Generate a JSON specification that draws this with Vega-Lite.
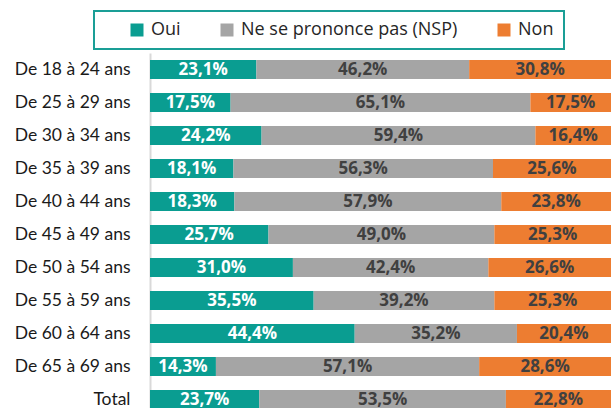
{
  "$schema": "https://vega.github.io/schema/vega-lite/v6.json",
  "autosize": "none",
  "padding": {"left": 150, "top": 53, "right": 0, "bottom": 0},
  "width": 461,
  "height": 363,
  "data": {
    "values": [
      {"age": "De 18 à 24 ans", "rep": "Oui", "pct": 0.231},
      {"age": "De 18 à 24 ans", "rep": "Ne se prononce pas (NSP)", "pct": 0.462},
      {"age": "De 18 à 24 ans", "rep": "Non", "pct": 0.308},
      {"age": "De 25 à 29 ans", "rep": "Oui", "pct": 0.175},
      {"age": "De 25 à 29 ans", "rep": "Ne se prononce pas (NSP)", "pct": 0.651},
      {"age": "De 25 à 29 ans", "rep": "Non", "pct": 0.175},
      {"age": "De 30 à 34 ans", "rep": "Oui", "pct": 0.242},
      {"age": "De 30 à 34 ans", "rep": "Ne se prononce pas (NSP)", "pct": 0.594},
      {"age": "De 30 à 34 ans", "rep": "Non", "pct": 0.164},
      {"age": "De 35 à 39 ans", "rep": "Oui", "pct": 0.181},
      {"age": "De 35 à 39 ans", "rep": "Ne se prononce pas (NSP)", "pct": 0.563},
      {"age": "De 35 à 39 ans", "rep": "Non", "pct": 0.256},
      {"age": "De 40 à 44 ans", "rep": "Oui", "pct": 0.183},
      {"age": "De 40 à 44 ans", "rep": "Ne se prononce pas (NSP)", "pct": 0.579},
      {"age": "De 40 à 44 ans", "rep": "Non", "pct": 0.238},
      {"age": "De 45 à 49 ans", "rep": "Oui", "pct": 0.257},
      {"age": "De 45 à 49 ans", "rep": "Ne se prononce pas (NSP)", "pct": 0.490},
      {"age": "De 45 à 49 ans", "rep": "Non", "pct": 0.253},
      {"age": "De 50 à 54 ans", "rep": "Oui", "pct": 0.310},
      {"age": "De 50 à 54 ans", "rep": "Ne se prononce pas (NSP)", "pct": 0.424},
      {"age": "De 50 à 54 ans", "rep": "Non", "pct": 0.266},
      {"age": "De 55 à 59 ans", "rep": "Oui", "pct": 0.355},
      {"age": "De 55 à 59 ans", "rep": "Ne se prononce pas (NSP)", "pct": 0.392},
      {"age": "De 55 à 59 ans", "rep": "Non", "pct": 0.253},
      {"age": "De 60 à 64 ans", "rep": "Oui", "pct": 0.444},
      {"age": "De 60 à 64 ans", "rep": "Ne se prononce pas (NSP)", "pct": 0.352},
      {"age": "De 60 à 64 ans", "rep": "Non", "pct": 0.204},
      {"age": "De 65 à 69 ans", "rep": "Oui", "pct": 0.143},
      {"age": "De 65 à 69 ans", "rep": "Ne se prononce pas (NSP)", "pct": 0.571},
      {"age": "De 65 à 69 ans", "rep": "Non", "pct": 0.286},
      {"age": "Total", "rep": "Oui", "pct": 0.237},
      {"age": "Total", "rep": "Ne se prononce pas (NSP)", "pct": 0.535},
      {"age": "Total", "rep": "Non", "pct": 0.228}
    ]
  },
  "transform": [
    {"stack": "pct", "groupby": ["age"], "offset": "normalize", "as": ["v0", "v1"]}
  ],
  "encoding": {
    "y": {
      "field": "age",
      "type": "nominal",
      "sort": ["De 18 à 24 ans", "De 25 à 29 ans", "De 30 à 34 ans", "De 35 à 39 ans", "De 40 à 44 ans", "De 45 à 49 ans", "De 50 à 54 ans", "De 55 à 59 ans", "De 60 à 64 ans", "De 65 à 69 ans", "Total"],
      "scale": {"paddingInner": 0.42, "paddingOuter": 0.21},
      "axis": {
        "title": null,
        "ticks": false,
        "labelPadding": 20,
        "labelFont": "Lato",
        "labelFontSize": 17.5,
        "labelColor": "#1a1a1a",
        "domainColor": "#d9d9d9",
        "domainWidth": 2
      }
    }
  },
  "layer": [
    {
      "mark": {"type": "bar"},
      "encoding": {
        "x": {"field": "v0", "type": "quantitative", "scale": {"domain": [0, 1], "nice": false}, "axis": null},
        "x2": {"field": "v1"},
        "color": {
          "field": "rep",
          "type": "nominal",
          "scale": {
            "domain": ["Oui", "Ne se prononce pas (NSP)", "Non"],
            "range": ["#0a9d91", "#a5a5a5", "#ed7d31"]
          },
          "legend": {
            "orient": "none",
            "legendX": -56,
            "legendY": -42,
            "direction": "horizontal",
            "title": "\u00a0",
            "titleOrient": "left",
            "titleFontSize": 11,
            "titlePadding": 24,
            "symbolType": "square",
            "symbolSize": 169,
            "symbolStrokeWidth": 0,
            "labelFont": "Open Sans",
            "labelFontSize": 18,
            "labelLimit": 400,
            "labelColor": "#262626",
            "labelOffset": 5,
            "columnPadding": 37,
            "padding": 10,
            "strokeColor": "#1a9e96",
            "labelExpr": "datum.label == 'Non' ? 'Non\u00a0\u00a0\u00a0\u00a0' : datum.label"
          }
        }
      }
    },
    {
      "transform": [
        {"fold": ["v0", "v1"], "as": ["edge", "xv"]},
        {"aggregate": [{"op": "mean", "field": "xv", "as": "mid"}], "groupby": ["age", "rep", "pct"]}
      ],
      "mark": {"type": "text", "font": "Open Sans", "fontWeight": "bold", "fontSize": 17, "baseline": "middle", "align": "center"},
      "encoding": {
        "x": {"field": "mid", "type": "quantitative", "scale": {"domain": [0, 1], "nice": false}, "axis": null},
        "text": {"field": "pct", "type": "quantitative", "format": ".1%"},
        "color": {
          "condition": {"test": "datum.rep === 'Oui'", "value": "white"},
          "value": "#404040"
        }
      }
    }
  ],
  "config": {
    "view": {"stroke": null},
    "legend": {"strokeWidth": 2},
    "locale": {
      "number": {"decimal": ",", "thousands": "\u00a0", "grouping": [3], "currency": ["", "\u00a0€"]}
    }
  }
}
